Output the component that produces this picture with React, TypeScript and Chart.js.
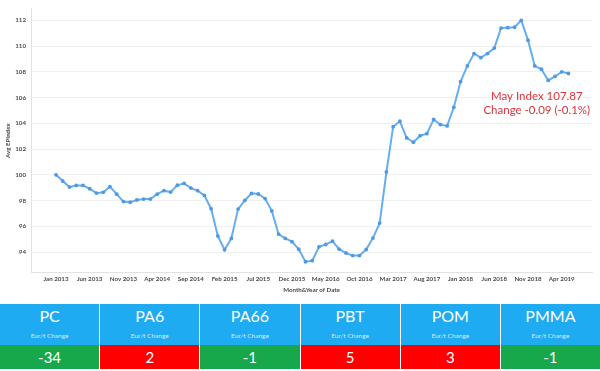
import React, { useEffect, useRef } from 'react';
import { Chart, registerables } from 'chart.js';

Chart.register(...registerables);

const tickLabels = [
  'Jan 2013', 'Jun 2013', 'Nov 2013', 'Apr 2014', 'Sep 2014', 'Feb 2015', 'Jul 2015', 'Dec 2015',
  'May 2016', 'Oct 2016', 'Mar 2017', 'Aug 2017', 'Jan 2018', 'Jun 2018', 'Nov 2018', 'Apr 2019',
];
const tickIndexes = [0, 5, 10, 15, 20, 25, 30, 35, 40, 45, 50, 55, 60, 65, 70, 75];

const indexValues = [
  100.0, 99.52, 99.05, 99.18, 99.18, 98.92, 98.58, 98.64, 99.08, 98.5,
  97.92, 97.87, 98.05, 98.12, 98.12, 98.5, 98.77, 98.66, 99.2, 99.33,
  98.97, 98.77, 98.4, 97.37, 95.25, 94.18, 95.06, 97.34, 98.01, 98.56,
  98.51, 98.16, 97.2, 95.4, 95.06, 94.81, 94.22, 93.25, 93.33, 94.41,
  94.59, 94.85, 94.23, 93.93, 93.73, 93.73, 94.2, 95.09, 96.25, 100.22,
  103.74, 104.16, 102.87, 102.53, 103.04, 103.2, 104.3, 103.9, 103.8, 105.25,
  107.24, 108.46, 109.42, 109.1, 109.42, 109.84, 111.4, 111.43, 111.46, 112.0,
  110.46, 108.46, 108.2, 107.33, 107.64, 108.0, 107.87,
];

const yTicks = [94, 96, 98, 100, 102, 104, 106, 108, 110, 112];

const annotationLines = ['May Index 107.87', 'Change -0.09 (-0.1%)'];

const materials = ['PC', 'PA6', 'PA66', 'PBT', 'POM', 'PMMA'];
const changes = [-34, 2, -1, 5, 3, -1];
const subLabel = 'Eur/t Change';

const FONT = 'Lato, "Open Sans", sans-serif';

const annotationPlugin = {
  id: 'mayAnnotation',
  afterDraw(chart: any) {
    const { ctx, scales } = chart;
    const x = scales.x.getPixelForValue(71.3);
    const y = scales.y.getPixelForValue(106.08);
    ctx.save();
    ctx.fillStyle = '#d8353d';
    ctx.font = `11.5px ${FONT}`;
    ctx.textAlign = 'center';
    ctx.textBaseline = 'middle';
    annotationLines.forEach((t, i) => ctx.fillText(t, x, y + i * 14));
    ctx.restore();
  },
};

export default function App() {
  const ref = useRef<HTMLCanvasElement>(null);

  useEffect(() => {
    document.body.style.margin = '0';
    const canvas = ref.current;
    if (!canvas) return;
    const chart = new Chart(canvas, {
      type: 'line',
      data: {
        datasets: [
          {
            data: indexValues.map((v, i) => ({ x: i, y: v })),
            borderColor: '#67aeee',
            borderWidth: 2,
            pointRadius: 1.9,
            pointBackgroundColor: '#4f9ae2',
            pointBorderWidth: 0,
            tension: 0,
          },
        ],
      },
      options: {
        animation: false,
        responsive: false,
        devicePixelRatio: 1,
        layout: { padding: { top: 5, right: 8, left: 0, bottom: 0 } },
        plugins: { legend: { display: false }, tooltip: { enabled: false } },
        scales: {
          x: {
            type: 'linear',
            min: -3.71,
            max: 79.49,
            grid: { display: false, drawTicks: false },
            border: { display: true, color: '#e2e2e2' },
            afterBuildTicks: (scale: any) => {
              scale.ticks = tickIndexes.map((v) => ({ value: v }));
            },
            afterFit: (scale: any) => {
              scale.height = 27.3;
            },
            ticks: {
              autoSkip: false,
              maxRotation: 0,
              padding: 3,
              color: '#4a4a4a',
              font: { family: FONT, size: 6.2, weight: 'bold' },
              callback: (v: any) => {
                const k = tickIndexes.indexOf(Number(v));
                return k >= 0 ? tickLabels[k] : '';
              },
            },
            title: {
              display: true,
              text: 'Month&Year of Date',
              color: '#4a4a4a',
              font: { family: FONT, size: 6.2, weight: 'bold' },
              padding: { top: 0, bottom: 6.3 },
            },
          },
          y: {
            min: 92.4,
            max: 112.9,
            grid: { color: '#f0f0f0', drawTicks: false },
            border: { display: true, color: '#e2e2e2' },
            afterBuildTicks: (scale: any) => {
              scale.ticks = yTicks.map((v) => ({ value: v }));
            },
            afterFit: (scale: any) => {
              scale.width = 31;
            },
            ticks: {
              padding: 5,
              color: '#4a4a4a',
              font: { family: FONT, size: 6.2, weight: 'bold' },
            },
            title: {
              display: true,
              text: 'Avg EPIndex',
              color: '#4a4a4a',
              font: { family: FONT, size: 6.2, weight: 'bold' },
              padding: { top: 4.3, bottom: 0 },
            },
          },
        },
      },
      plugins: [annotationPlugin],
    } as any);
    return () => chart.destroy();
  }, []);

  return (
    <div style={{ position: 'relative', width: 600, height: 371, background: '#fff', overflow: 'hidden' }}>
      <canvas ref={ref} width={600} height={300} style={{ display: 'block', width: 600, height: 300 }} />
      <div
        style={{
          position: 'absolute',
          left: 0,
          top: 304,
          width: 600,
          height: 65,
          display: 'flex',
          fontFamily: FONT,
          color: '#fff',
        }}
      >
        {materials.map((m, i) => (
          <div
            key={m}
            style={{
              flex: 1,
              display: 'flex',
              flexDirection: 'column',
              borderLeft: i === 0 ? 'none' : '1px solid rgba(255,255,255,0.7)',
            }}
          >
            <div style={{ height: 41, background: '#1eabf1', position: 'relative', textAlign: 'center' }}>
              <div style={{ position: 'absolute', left: 0, right: 0, top: 2, fontSize: 16, lineHeight: '20px' }}>{m}</div>
              <div
                style={{
                  position: 'absolute',
                  left: 0,
                  right: 0,
                  top: 27,
                  fontSize: 6.5,
                  lineHeight: '9px',
                  color: 'rgba(255,255,255,0.8)',
                }}
              >
                {subLabel}
              </div>
            </div>
            <div
              style={{
                height: 24,
                background: changes[i] < 0 ? '#16a84b' : '#ff0000',
                textAlign: 'center',
                fontSize: 15,
                lineHeight: '24px',
              }}
            >
              {String(changes[i])}
            </div>
          </div>
        ))}
      </div>
    </div>
  );
}
